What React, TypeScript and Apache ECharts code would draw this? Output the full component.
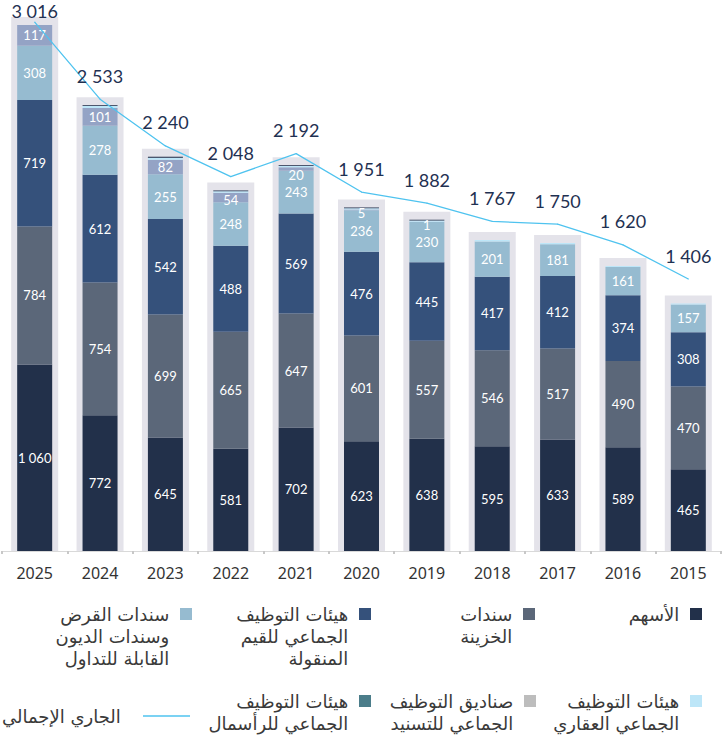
import React, { useEffect, useRef } from 'react';
import * as echarts from 'echarts';

const categories = ['2025', '2024', '2023', '2022', '2021', '2020', '2019', '2018', '2017', '2016', '2015'];
const equities = [1060, 772, 645, 581, 702, 623, 638, 595, 633, 589, 465];
const treasury = [784, 754, 699, 665, 647, 601, 557, 546, 517, 490, 470];
const ucits = [719, 612, 542, 488, 569, 476, 445, 417, 412, 374, 308];
const bonds = [308, 278, 255, 248, 243, 236, 230, 201, 181, 161, 157];
const securitization = [117, 101, 82, 54, 20, 5, 1, 0, 0, 0, 0];
const realEstate = [0, 11, 12, 8, 7, 6, 7, 8, 7, 6, 6];
const capital = [0, 5, 5, 4, 4, 4, 4, 0, 0, 0, 0];
const totals = [3016, 2533, 2240, 2048, 2192, 1951, 1882, 1767, 1750, 1620, 1406];

const N_EQ = 'الأسهم';
const N_TB = 'سندات الخزينة';
const N_UC = 'هيئات التوظيف الجماعي للقيم المنقولة';
const N_BD = 'سندات القرض وسندات الديون القابلة للتداول';
const N_SEC = 'صناديق التوظيف الجماعي للتسنيد';
const N_RE = 'هيئات التوظيف الجماعي العقاري';
const N_CAP = 'هيئات التوظيف الجماعي للرأسمال';
const N_TOT = 'الجاري الإجمالي';

const fmt = (n: number) => String(n).replace(/\B(?=(\d{3})+(?!\d))/g, ' ');

const ARABIC_FONT = "'DejaVu Sans', sans-serif";
const LH = 22;

export default function App() {
  const ref = useRef<HTMLDivElement>(null);
  useEffect(() => {
    document.body.style.margin = '0';
    const chart = echarts.init(ref.current!, null, { renderer: 'svg' });

    const segLabel = {
      show: true,
      color: '#ffffff',
      fontFamily: 'Lato',
      fontSize: 13,
      formatter: (p: any) => (p.value ? fmt(p.value) : ''),
    };

    const stackDefs = [
      { name: N_EQ, data: equities, color: '#22304a', label: true },
      { name: N_TB, data: treasury, color: '#5b6779', label: true },
      { name: N_UC, data: ucits, color: '#35517b', label: true },
      { name: N_BD, data: bonds, color: '#96bbd0', label: true },
      { name: N_SEC, data: securitization, color: '#94a3c5', label: true, small: true },
      { name: N_RE, data: realEstate, color: '#bde6f8', label: false },
      { name: N_CAP, data: capital, color: '#1b2944', label: false },
    ];

    const stackSum = categories.map((_, i) =>
      stackDefs.reduce((s, d) => s + d.data[i], 0)
    );

    const barSeries = stackDefs.map((d) => ({
      type: 'bar',
      name: d.name,
      stack: 'total',
      barWidth: 35,
      z: 3,
      itemStyle: { color: d.color },
      label: d.label ? segLabel : { show: false },
      data: d.small
        ? d.data.map((v) =>
            v > 0 && v < 10
              ? { value: v, label: { position: 'inside', offset: [0, 3] } }
              : v > 0 && v < 60
              ? { value: v, label: { position: 'insideTop', distance: 1 } }
              : v
          )
        : d.data,
    }));

    const legendDefs = [
      { name: N_EQ, lines: ['الأسهم'], right: 26, yc: 612, color: '#22304a' },
      { name: N_TB, lines: ['سندات', 'الخزينة'], right: 193, yc: 612, color: '#5b6779' },
      { name: N_UC, lines: ['هيئات التوظيف', 'الجماعي للقيم', 'المنقولة'], right: 357, yc: 612, color: '#35517b' },
      { name: N_BD, lines: ['سندات القرض', 'وسندات الديون', 'القابلة للتداول'], right: 536, yc: 612, color: '#96bbd0' },
      { name: N_RE, lines: ['هيئات التوظيف', 'الجماعي العقاري'], right: 26, yc: 699, color: '#bde6f8' },
      { name: N_SEC, lines: ['صناديق التوظيف', 'الجماعي للتسنيد'], right: 192, yc: 699, color: '#bdbdbd' },
      { name: N_CAP, lines: ['هيئات التوظيف', 'الجماعي للرأسمال'], right: 357, yc: 699, color: '#4b7d8a' },
    ];

    const legends: any[] = legendDefs.map((l) => {
      const n = l.lines.length;
      return {
        data: [{ name: l.name, itemStyle: { color: l.color } }],
        right: l.right,
        top: l.yc - 9 - (n - 1) * LH,
        padding: 0,
        align: 'right',
        icon: 'rect',
        itemWidth: 12,
        itemHeight: 12,
        selectedMode: false,
        formatter: () => '\n'.repeat(n - 1) + l.lines.map((s) => s + ' ').join('\n'),
        textStyle: {
          fontFamily: ARABIC_FONT,
          fontSize: 18,
          color: '#3a3a3a',
          lineHeight: LH,
        },
      };
    });
    legends.push({
      data: [{ name: N_TOT, icon: 'rect', itemStyle: { color: '#4fc3ef' } }],
      right: 538,
      top: 707,
      padding: 0,
      align: 'right',
      itemWidth: 47,
      itemHeight: 1.5,
      selectedMode: false,
      formatter: () => N_TOT + '   ',
      textStyle: {
        fontFamily: ARABIC_FONT,
        fontSize: 18,
        color: '#3a3a3a',
      },
    });

    const option: any = {
      animation: false,
      backgroundColor: '#ffffff',
      grid: { left: 2, right: 7, top: 1, bottom: 186, containLabel: false },
      xAxis: {
        type: 'category',
        data: categories,
        axisLine: { show: true, lineStyle: { color: '#d9d9d9', width: 1 } },
        axisTick: { show: true, length: 3, lineStyle: { color: '#c8c8c8', width: 2 } },
        axisLabel: { fontFamily: 'Noto Sans', fontSize: 16, color: '#333333', margin: 14 },
      },
      yAxis: [
        { type: 'value', min: 0, max: 3125, show: false, splitLine: { show: false } },
        { type: 'value', min: -298, max: 3148, show: false, splitLine: { show: false } },
      ],
      legend: legends,
      series: [
        {
          type: 'custom',
          name: 'bg',
          z: 1,
          silent: true,
          renderItem: (params: any, api: any) => {
            const idx = api.value(0);
            const top = api.coord([idx, api.value(1)]);
            const base = api.coord([idx, 0]);
            return {
              type: 'rect',
              shape: { x: top[0] - 23.5, y: top[1] - 8, width: 47, height: base[1] - top[1] + 8 },
              style: { fill: '#e4e3ea' },
            };
          },
          encode: { x: 0, y: 1 },
          data: categories.map((_, i) => [i, stackSum[i]]),
        },
        ...barSeries,
        {
          type: 'line',
          name: N_TOT,
          yAxisIndex: 1,
          z: 6,
          symbol: 'circle',
          symbolSize: 1,
          showSymbol: true,
          lineStyle: { color: '#4fc3ef', width: 1.3 },
          itemStyle: { color: '#4fc3ef' },
          label: {
            show: true,
            position: 'top',
            distance: 14,
            fontFamily: 'Lato',
            fontSize: 18,
            color: '#1f3152',
            formatter: (p: any) => fmt(p.value),
          },
          labelLayout: { hideOverlap: false },
          data: totals.map((v, i) => (i === 0 ? { value: v, label: { distance: 2 } } : v)),
        },
      ],
    };
    chart.setOption(option);
    return () => chart.dispose();
  }, []);
  return <div ref={ref} style={{ width: 728, height: 737 }} />;
}
